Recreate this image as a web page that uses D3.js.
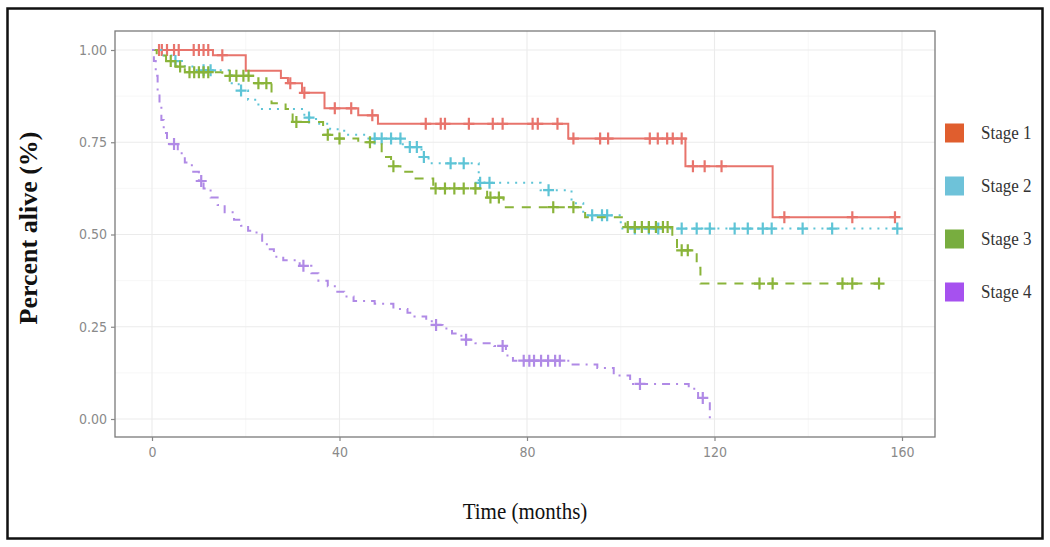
<!DOCTYPE html>
<html>
<head>
<meta charset="utf-8">
<script src="https://cdn.jsdelivr.net/npm/d3@7"></script>
<style>
  html, body { margin: 0; padding: 0; background: #fff; }
  svg { display: block; }
</style>
</head>
<body>
<svg width="1050" height="547"></svg>
<script>
'use strict';

// ---- data ----
const stages = ["Stage 1", "Stage 2", "Stage 3", "Stage 4"];
const xTicks = [0, 40, 80, 120, 160];
const yTicks = [0, 0.25, 0.5, 0.75, 1];

// [time, survival after that time]
const stage1Steps = [[0,1],[13,0.986],[20,0.944],[27.5,0.924],[29,0.91],[32,0.884],[36.8,0.842],[44,0.823],[48.2,0.80],[88.8,0.76],[113.8,0.685],[132.4,0.547],[158.5,0.547]];
const stage1Censor = [1.5,2.1,3.2,4.7,5.7,8.9,10,11,12,15,29.5,32.5,39,42.5,47,58.4,61.6,62.5,67.6,72.7,74.8,81.2,82.3,86.5,89.9,95.6,97.3,106.2,107.9,109.9,111.1,113,115.4,117.9,121.5,134.9,149.4,158.5];

const stage2Steps = [[0,1],[2,0.985],[4.5,0.97],[7,0.955],[9,0.945],[17,0.91],[18.5,0.89],[20.5,0.865],[22.7,0.84],[32.5,0.817],[35,0.80],[38,0.785],[41,0.77],[45.5,0.76],[53.5,0.737],[57.5,0.71],[59,0.693],[69.7,0.64],[82.9,0.62],[89.5,0.585],[92,0.552],[100,0.516],[159,0.516]];
const stage2Censor = [5,11,12.5,19,33.5,47.5,49,51,53,55,56.5,58,63.7,66.5,70,72,84.6,93.9,96,97.1,103,106,108,113,116.2,119,124.3,127.1,130.3,132.2,138.8,145.1,159];

const stage3Steps = [[0,1],[1,0.985],[3,0.97],[5,0.955],[7,0.94],[15,0.93],[22,0.91],[25.5,0.856],[28.5,0.84],[30,0.805],[36.5,0.77],[39,0.76],[44,0.75],[49,0.71],[51,0.685],[53,0.67],[56,0.652],[60,0.625],[71.5,0.60],[75,0.574],[92.4,0.547],[101,0.52],[111,0.49],[112,0.457],[116.2,0.41],[117,0.367],[156,0.367]];
const stage3Censor = [4,6,8,9,10,11,12,16.6,18,19.5,20.6,22.7,24.4,30.8,37.5,40,46.5,51.5,60.5,62.5,64.5,66.5,69,72.2,74,85.6,89.9,101.5,103,104.5,106,107.5,109,110,113,114.3,129.6,132.4,147.3,149.4,155.1];

const stage4Steps = [[0,1],[0.4,0.97],[0.8,0.93],[1.2,0.89],[1.6,0.85],[2,0.81],[2.5,0.775],[3.2,0.745],[5.5,0.72],[7,0.695],[8.5,0.67],[10,0.645],[11,0.625],[12.5,0.6],[14,0.58],[15.5,0.56],[17.5,0.54],[19,0.524],[20.5,0.51],[22.3,0.5],[23.5,0.48],[24.5,0.46],[26,0.44],[28,0.43],[31.5,0.415],[34,0.395],[35.5,0.375],[37.5,0.36],[39,0.345],[41,0.332],[43,0.32],[47.5,0.312],[51.5,0.298],[54.5,0.288],[56,0.278],[58.5,0.265],[60,0.255],[62,0.245],[64,0.232],[66,0.215],[69,0.205],[73,0.198],[75.5,0.172],[77,0.158],[89.5,0.148],[95,0.138],[98.5,0.118],[102,0.095],[114.5,0.082],[116.5,0.057],[119,0]];
const stage4Censor = [4.7,10.5,32.3,60.6,67,74.8,79.3,80.5,81.5,83,84.5,86,87,104.1,117.5];

// ---- styles ----
const lineColors = ["#e8746c", "#5ec4d6", "#8ab43a", "#b08ae6"];
const keyColors = ["#e05e2e", "#6ec2d9", "#78ad3f", "#a651ef"];
const dashes = [null, "2,6", "9,8", "2,6,8,6"];

const series = [
  {steps: stage1Steps, censor: stage1Censor},
  {steps: stage2Steps, censor: stage2Censor},
  {steps: stage3Steps, censor: stage3Censor},
  {steps: stage4Steps, censor: stage4Censor}
];

let svg = d3.select("svg");

svg.append("rect")
  .attr("x", 7.5).attr("y", 8.5)
  .attr("width", 1035).attr("height", 530)
  .attr("fill", "#fff")
  .attr("stroke", "#111")
  .attr("stroke-width", 2.5);

let panel = {left: 115, right: 935, top: 31, bottom: 437};

let x = d3.scaleLinear().domain([0, 160]).range([152, 902]);
let y = d3.scaleLinear().domain([0, 1]).range([419, 50]);

let grid = svg.append("g");

// minor grid
grid.selectAll("line.mx")
  .data([20, 60, 100, 140])
  .join("line")
    .attr("x1", d => x(d)).attr("x2", d => x(d))
    .attr("y1", panel.top).attr("y2", panel.bottom)
    .attr("stroke", "#f3f3f3").attr("stroke-width", 0.7);
grid.selectAll("line.my")
  .data([0.125, 0.375, 0.625, 0.875])
  .join("line")
    .attr("y1", d => y(d)).attr("y2", d => y(d))
    .attr("x1", panel.left).attr("x2", panel.right)
    .attr("stroke", "#f3f3f3").attr("stroke-width", 0.7);

// major grid
grid.append("g").selectAll("line")
  .data(xTicks)
  .join("line")
    .attr("x1", d => x(d)).attr("x2", d => x(d))
    .attr("y1", panel.top).attr("y2", panel.bottom)
    .attr("stroke", "#ebebeb").attr("stroke-width", 1.1);
grid.append("g").selectAll("line")
  .data(yTicks)
  .join("line")
    .attr("y1", d => y(d)).attr("y2", d => y(d))
    .attr("x1", panel.left).attr("x2", panel.right)
    .attr("stroke", "#ebebeb").attr("stroke-width", 1.1);

// curves
let line = d3.line()
  .x(d => x(d[0]))
  .y(d => y(d[1]))
  .curve(d3.curveStepAfter);

let bis = d3.bisector(d => d[0]).right;
function survAt(steps, t) {
  return steps[Math.max(0, bis(steps, t) - 1)][1];
}

let curves = svg.append("g").attr("fill", "none");

series.forEach((s, i) => {
  curves.append("path")
    .attr("d", line(s.steps))
    .attr("stroke", lineColors[i])
    .attr("stroke-width", 2)
    .attr("stroke-dasharray", dashes[i]);

  curves.append("g").selectAll("path")
    .data(s.censor)
    .join("path")
      .attr("transform", t => `translate(${x(t)},${y(survAt(s.steps, t))})`)
      .attr("d", "M-5.5,0H5.5M0,-6V6")
      .attr("stroke", lineColors[i])
      .attr("stroke-width", 2.2);
});

// panel border
svg.append("rect")
  .attr("x", panel.left).attr("y", panel.top)
  .attr("width", panel.right - panel.left)
  .attr("height", panel.bottom - panel.top)
  .attr("fill", "none")
  .attr("stroke", "#7a7a7a")
  .attr("stroke-width", 1.3);

// axes
let xAxis = svg.append("g")
  .attr("transform", `translate(0,${panel.bottom})`)
  .call(d3.axisBottom(x).tickValues(xTicks).tickSize(4).tickPadding(6).tickFormat(d3.format("d")));
let yAxis = svg.append("g")
  .attr("transform", `translate(${panel.left},0)`)
  .call(d3.axisLeft(y).tickValues(yTicks).tickSize(4).tickPadding(4).tickFormat(d3.format(".2f")));

[xAxis, yAxis].forEach(a => {
  a.select(".domain").remove();
  a.selectAll(".tick line").attr("stroke", "#888").attr("stroke-width", 1.2);
  a.selectAll(".tick text")
    .attr("fill", "#8a8a8a")
    .style("font-family", "'Liberation Sans Narrow', 'Arial Narrow', 'DejaVu Sans Condensed', sans-serif")
    .style("font-stretch", "condensed")
    .style("font-size", "14px");
});

// titles
svg.append("text")
  .attr("transform", "translate(37,228) rotate(-90)")
  .attr("text-anchor", "middle")
  .style("font-family", "'Liberation Serif', 'Times New Roman', serif")
  .style("font-weight", "bold")
  .style("font-size", "26px")
  .attr("fill", "#111")
  .text("Percent alive (%)");

svg.append("text")
  .attr("transform", `translate(${(panel.left + panel.right) / 2},519) scale(1,1.1)`)
  .attr("text-anchor", "middle")
  .style("font-family", "'Liberation Serif', 'Times New Roman', serif")
  .style("font-size", "21px")
  .attr("fill", "#111")
  .text("Time (months)");

// legend
let legendY = d3.scalePoint().domain(stages).range([133, 292]);
let legend = svg.append("g").selectAll("g")
  .data(stages)
  .join("g")
    .attr("transform", d => `translate(945,${legendY(d)})`);

legend.append("rect")
  .attr("x", 0).attr("y", -9.5)
  .attr("width", 19).attr("height", 19)
  .attr("fill", (d, i) => keyColors[i]);

legend.append("text")
  .attr("transform", "translate(36,6) scale(1,1.15)")
  .style("font-family", "'Liberation Serif', 'Times New Roman', serif")
  .style("font-size", "17px")
  .attr("fill", "#333")
  .text(d => d);
</script>
</body>
</html>
